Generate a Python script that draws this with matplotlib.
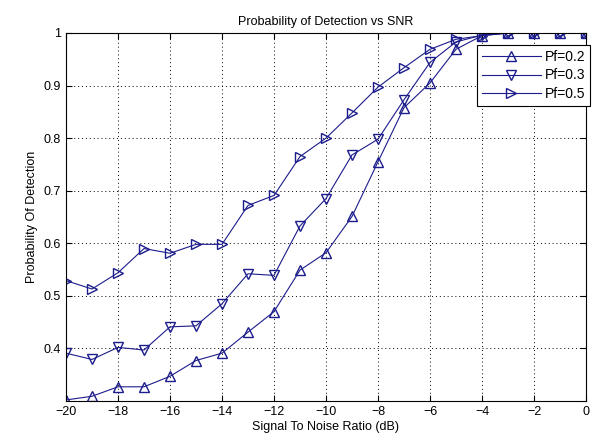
import numpy as np
import matplotlib.pyplot as plt

plt.rcParams['font.family'] = ['Liberation Sans', 'DejaVu Sans']

snr = [-20, -19, -18, -17, -16, -15, -14, -13, -12, -11, -10,
       -9, -8, -7, -6, -5, -4, -3, -2, -1, 0]
pd_02 = [0.302, 0.309, 0.327, 0.327, 0.347, 0.377, 0.391, 0.431, 0.470, 0.549, 0.582,
         0.651, 0.755, 0.858, 0.905, 0.969, 0.995, 1.0, 1.0, 1.0, 1.0]
pd_03 = [0.391, 0.379, 0.402, 0.397, 0.441, 0.443, 0.485, 0.542, 0.539, 0.633, 0.685,
         0.768, 0.798, 0.873, 0.944, 0.983, 0.996, 1.0, 1.0, 1.0, 1.0]
pd_05 = [0.529, 0.513, 0.544, 0.590, 0.581, 0.598, 0.598, 0.672, 0.691, 0.765, 0.800,
         0.848, 0.897, 0.934, 0.969, 0.988, 0.995, 1.0, 1.0, 1.0, 1.0]

col = '#1c1c8c'

fig = plt.figure(figsize=(5.95, 4.41), dpi=100)
ax = fig.add_axes([66/595, 40/441, 520/595, 368/441])

ax.plot(snr, pd_02, '-^', color=col, mfc='none', ms=7, lw=0.8, label='Pf=0.2')
ax.plot(snr, pd_03, '-v', color=col, mfc='none', ms=7, lw=0.8, label='Pf=0.3')
ax.plot(snr, pd_05, '->', color=col, mfc='none', ms=7, lw=0.8, label='Pf=0.5')

ax.set_xlim(-20, 0)
ax.set_ylim(0.3, 1.0)
ax.set_xticks(np.arange(-20, 1, 2))
ax.set_yticks([0.4, 0.5, 0.6, 0.7, 0.8, 0.9, 1.0])
ax.set_yticklabels(['0.4', '0.5', '0.6', '0.7', '0.8', '0.9', '1'])
ax.grid(True, linestyle=(0, (1, 3)), color='black', lw=0.7)
ax.tick_params(direction='in', top=True, right=True, labelsize=9, length=4)

ax.set_title('Probability of Detection vs SNR', fontsize=9, pad=6)
ax.set_xlabel('Signal To Noise Ratio (dB)', fontsize=9, labelpad=2)
ax.set_ylabel('Probability Of Detection', fontsize=9)

leg = ax.legend(loc='upper right', bbox_to_anchor=(1.008, 0.968), fontsize=10,
                fancybox=False, edgecolor='black', framealpha=1,
                handlelength=4.2, handletextpad=0.3, borderaxespad=0,
                labelspacing=0.35, borderpad=0.35)
leg.get_frame().set_linewidth(0.8)

fig.savefig('out.png')
